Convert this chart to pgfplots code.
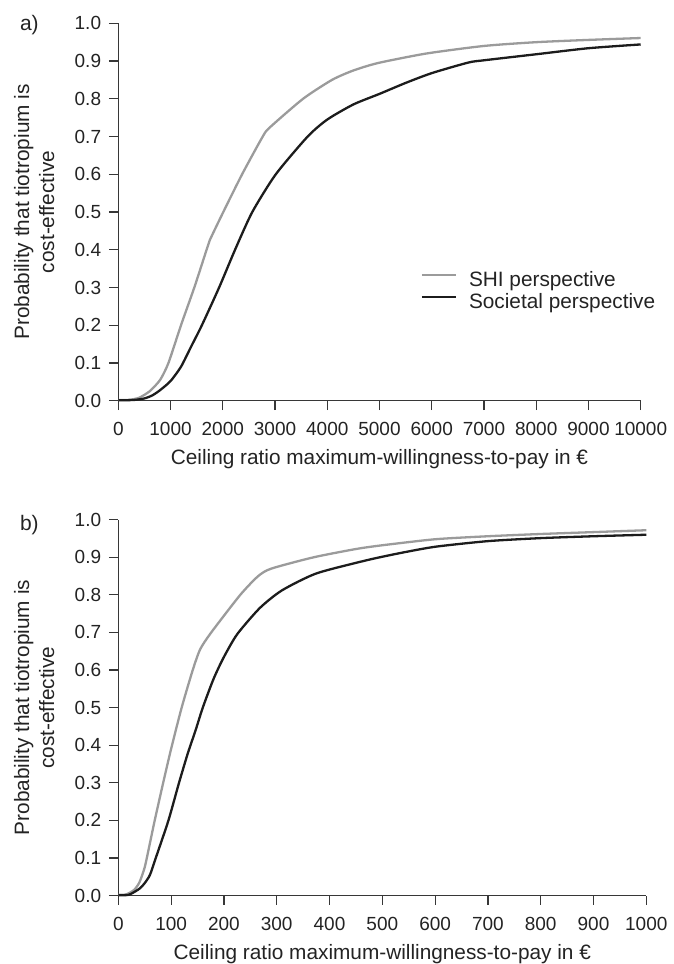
\documentclass[border=0pt]{standalone}
\usepackage{pgfplots}
\pgfplotsset{compat=1.18}
\usepackage{fontspec}
\setmainfont{Liberation Sans}
\definecolor{shi}{RGB}{155,155,155}
\definecolor{soc}{RGB}{28,28,28}
\definecolor{axc}{RGB}{55,55,55}
\definecolor{txt}{RGB}{35,35,35}

\pgfplotstableread{
x y
0 0.002
200 0.002
400 0.008
600 0.025
800 0.055
960 0.1
1200 0.2
1455 0.3
1690 0.4
1750 0.425
2010 0.5
2370 0.6
2765 0.7
2900 0.724
3537 0.8
4090 0.85
4500 0.875
4979 0.895
5900 0.92
7000 0.94
8000 0.95
9000 0.956
10000 0.961
}\shia

\pgfplotstableread{
x y
0 0.001
300 0.002
500 0.006
650 0.014
800 0.028
1000 0.052
1200 0.09
1400 0.145
1600 0.2
1930 0.3
2235 0.4
2565 0.5
3015 0.6
3625 0.7
4000 0.745
4500 0.785
5000 0.813
5500 0.842
6000 0.868
6700 0.896
7000 0.902
8000 0.918
9000 0.934
10000 0.944
}\soca

\pgfplotstableread{
x y
0 0.002
15 0.003
30 0.015
40 0.035
50 0.075
60 0.14
69 0.2
85 0.3
100 0.39
120 0.5
141 0.6
155 0.655
176 0.7
231 0.8
265 0.85
290 0.87
370 0.9
450 0.922
500 0.932
600 0.948
700 0.956
800 0.962
900 0.967
1000 0.972
}\shib

\pgfplotstableread{
x y
0 0.001
20 0.002
40 0.018
50 0.033
60 0.055
71 0.1
95 0.2
115 0.3
132 0.38
146 0.438
160 0.5
180 0.575
199 0.632
225 0.695
268 0.765
310 0.812
375 0.857
470 0.892
533 0.911
600 0.928
700 0.943
800 0.951
900 0.956
1000 0.96
}\socb

\pgfplotsset{
  myax/.style={
    scale only axis,
    axis x line*=bottom,
    axis y line*=left,
    axis line style={axc, line width=0.6pt},
    tick style={axc, line width=0.6pt},
    tick align=outside,
    major tick length=4.7pt,
    ymin=0, ymax=1,
    ytick={0,0.1,0.2,0.3,0.4,0.5,0.6,0.7,0.8,0.9,1.0},
    yticklabel style={/pgf/number format/fixed, /pgf/number format/precision=1,
      /pgf/number format/fixed zerofill, anchor=east, inner sep=0pt, xshift=-3.7pt},
    xticklabel style={/pgf/number format/1000 sep={}, anchor=north, inner sep=0pt, yshift=-5.8pt},
    scaled x ticks=false,
    /pgf/number format/assume math mode=true,
    ticklabel style={font=\fontsize{9.5}{11}\selectfont, text=txt},
    clip=false,
  }
}

\begin{document}
\begin{tikzpicture}
\path[use as bounding box] (0pt,0pt) rectangle (337pt,-482pt);

% Panel a
\begin{axis}[myax,
  at={(59.15pt,-200.35pt)}, anchor=south west,
  width=261.2pt, height=188.7pt,
  xmin=0, xmax=10000,
  xtick={0,1000,2000,3000,4000,5000,6000,7000,8000,9000,10000},
  legend image code/.code={\draw[#1] (0pt,3.15pt) -- (17.15pt,3.15pt);},
  legend style={at={(axis cs:5789,0.287)}, anchor=west, draw=none, fill=none,
    inner sep=0pt, outer sep=0pt, row sep=1.5pt,
    font=\fontsize{10.4}{12}\selectfont, text=txt,
    nodes={inner sep=0pt, text height=7.5pt, text depth=2pt},
    /tikz/every odd column/.append style={column sep=5.85pt}},
  legend cell align=left,
]
\addplot[shi, line width=1.15pt, smooth, tension=0.4] table {\shia};
\addlegendentry{SHI perspective}
\addplot[soc, line width=1.15pt, smooth, tension=0.4] table {\soca};
\addlegendentry{Societal perspective}
\end{axis}

% Panel b
\begin{axis}[myax,
  at={(59.15pt,-447.75pt)}, anchor=south west,
  width=264pt, height=187.9pt,
  xmin=0, xmax=1000,
  xtick={0,100,200,300,400,500,600,700,800,900,1000},
]
\addplot[shi, line width=1.15pt, smooth, tension=0.4] table {\shib};
\addplot[soc, line width=1.15pt, smooth, tension=0.4] table {\socb};
\end{axis}

\begin{scope}[every node/.style={text=txt}]
\node[anchor=base west, font=\fontsize{10.5}{12}\selectfont] at (6.5pt,-15pt) {a)};
\node[anchor=base west, font=\fontsize{10.5}{12}\selectfont] at (6.5pt,-265pt) {b)};
\node[rotate=90, align=center, font=\fontsize{10.4}{12.5}\selectfont] at (17.1pt,-106pt)
  {Probability that tiotropium is\\cost-effective};
\node[rotate=90, align=center, font=\fontsize{10.4}{12.5}\selectfont] at (17.1pt,-353.8pt)
  {Probability that tiotropium is\\cost-effective};
\node[anchor=base, font=\fontsize{10.4}{12}\selectfont] at (189.75pt,-232.3pt)
  {Ceiling ratio maximum-willingness-to-pay in €};
\node[anchor=base, font=\fontsize{10.4}{12}\selectfont] at (191.15pt,-479.6pt)
  {Ceiling ratio maximum-willingness-to-pay in €};
\end{scope}
\end{tikzpicture}
\end{document}
